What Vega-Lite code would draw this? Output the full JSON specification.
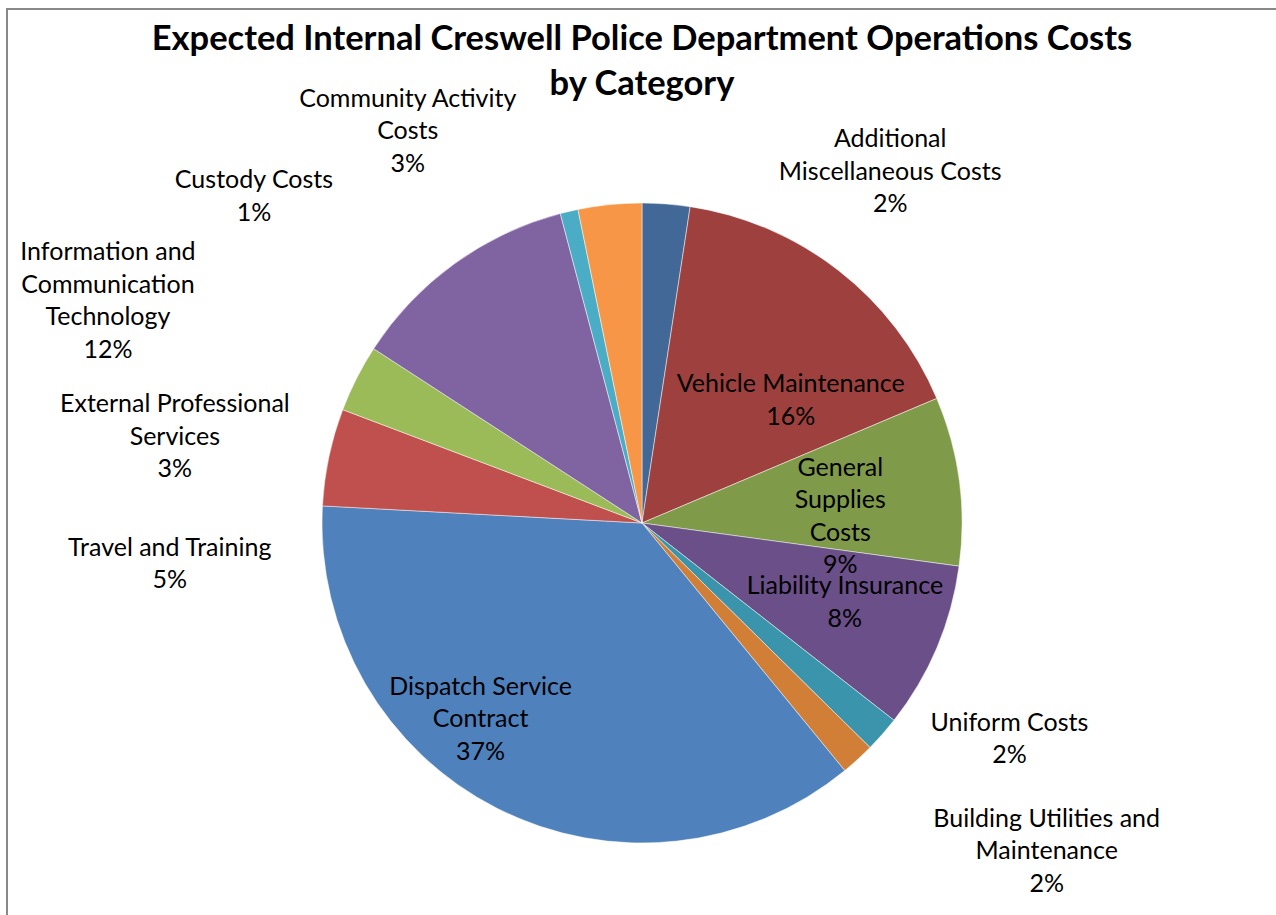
{
  "$schema": "https://vega.github.io/schema/vega-lite/v6.json",
  "autosize": "none",
  "width": 1270,
  "height": 1028,
  "padding": {"left": 7, "top": 9, "right": 0, "bottom": 0},
  "background": "white",
  "view": {"stroke": "#898989", "strokeWidth": 2},
  "title": {
    "text": ["Expected Internal Creswell Police Department Operations Costs", "by Category"],
    "anchor": "middle",
    "frame": "group",
    "font": "Lato",
    "fontSize": 34.5,
    "fontWeight": "bold",
    "color": "#000000",
    "lineHeight": 45,
    "baseline": "top",
    "offset": -12,
    "dy": 81
  },
  "config": {"view": {"stroke": "#898989", "strokeWidth": 2}, "style": {"view": {"stroke": "#898989", "strokeWidth": 2}}},
  "data": {
    "values": [
      {"ord": 1, "cat": "Additional Miscellaneous Costs", "value": 2.4, "label": "Additional\nMiscellaneous Costs\n2%"},
      {"ord": 2, "cat": "Vehicle Maintenance", "value": 16.2, "label": "Vehicle Maintenance\n16%"},
      {"ord": 3, "cat": "General Supplies Costs", "value": 8.5, "label": "General\nSupplies\nCosts\n9%"},
      {"ord": 4, "cat": "Liability Insurance", "value": 8.4, "label": "Liability Insurance\n8%"},
      {"ord": 5, "cat": "Uniform Costs", "value": 1.8, "label": "Uniform Costs\n2%"},
      {"ord": 6, "cat": "Building Utilities and Maintenance", "value": 1.7, "label": "Building Utilities and\nMaintenance\n2%"},
      {"ord": 7, "cat": "Dispatch Service Contract", "value": 36.7, "label": "Dispatch Service\nContract\n37%"},
      {"ord": 8, "cat": "Travel and Training", "value": 4.9, "label": "Travel and Training\n5%"},
      {"ord": 9, "cat": "External Professional Services", "value": 3.4, "label": "External Professional\nServices\n3%"},
      {"ord": 10, "cat": "Information and Communication Technology", "value": 11.7, "label": "Information and\nCommunication\nTechnology\n12%"},
      {"ord": 11, "cat": "Custody Costs", "value": 0.9, "label": "Custody Costs\n1%"},
      {"ord": 12, "cat": "Community Activity Costs", "value": 3.2, "label": "Community Activity\nCosts\n3%"}
    ]
  },
  "encoding": {
    "theta": {"field": "value", "type": "quantitative", "stack": true},
    "order": {"field": "ord", "type": "quantitative"},
    "detail": {"field": "cat", "type": "nominal"}
  },
  "layer": [
    {
      "mark": {"type": "arc", "radius": 320, "stroke": "#ffffff", "strokeWidth": 0.8, "strokeOpacity": 0.6},
      "encoding": {
        "color": {
          "field": "cat",
          "type": "nominal",
          "legend": null,
          "scale": {
            "domain": ["Additional Miscellaneous Costs", "Vehicle Maintenance", "General Supplies Costs", "Liability Insurance", "Uniform Costs", "Building Utilities and Maintenance", "Dispatch Service Contract", "Travel and Training", "External Professional Services", "Information and Communication Technology", "Custody Costs", "Community Activity Costs"],
            "range": ["#416896", "#9E413E", "#7F9A48", "#6A4F88", "#3A94AC", "#D17E37", "#4F81BD", "#C0504D", "#9BBB59", "#8064A2", "#4BACC6", "#F79646"]
          }
        }
      }
    },
    {
      "mark": {"type": "text", "radius": 195, "dx": 29, "dy": 15, "font": "Lato", "fontSize": 25, "lineHeight": 32.5, "lineBreak": "\n", "align": "center", "baseline": "middle", "color": "#000000"},
      "encoding": {"text": {"condition": {"test": "datum.cat === 'Vehicle Maintenance'", "field": "label", "type": "nominal"}, "value": ""}}
    },
    {
      "mark": {"type": "text", "radius": 198, "dx": 2, "dy": -29, "font": "Lato", "fontSize": 25, "lineHeight": 32.5, "lineBreak": "\n", "align": "center", "baseline": "middle", "color": "#000000"},
      "encoding": {"text": {"condition": {"test": "datum.cat === 'General Supplies Costs'", "field": "label", "type": "nominal"}, "value": ""}}
    },
    {
      "mark": {"type": "text", "radius": 217, "dx": 3, "dy": -21, "font": "Lato", "fontSize": 25, "lineHeight": 32.5, "lineBreak": "\n", "align": "center", "baseline": "middle", "color": "#000000"},
      "encoding": {"text": {"condition": {"test": "datum.cat === 'Liability Insurance'", "field": "label", "type": "nominal"}, "value": ""}}
    },
    {
      "mark": {"type": "text", "radius": 253, "dx": -47, "dy": -62, "font": "Lato", "fontSize": 25, "lineHeight": 32.5, "lineBreak": "\n", "align": "center", "baseline": "middle", "color": "#000000"},
      "encoding": {"text": {"condition": {"test": "datum.cat === 'Dispatch Service Contract'", "field": "label", "type": "nominal"}, "value": ""}}
    },
    {
      "mark": {"type": "text", "radius": 360, "dx": 221, "dy": -25, "font": "Lato", "fontSize": 25, "lineHeight": 32.5, "lineBreak": "\n", "align": "center", "baseline": "middle", "color": "#000000"},
      "encoding": {"text": {"condition": {"test": "datum.cat === 'Additional Miscellaneous Costs'", "field": "label", "type": "nominal"}, "value": ""}}
    },
    {
      "mark": {"type": "text", "radius": 360, "dx": 97, "dy": -38, "font": "Lato", "fontSize": 25, "lineHeight": 32.5, "lineBreak": "\n", "align": "center", "baseline": "middle", "color": "#000000"},
      "encoding": {"text": {"condition": {"test": "datum.cat === 'Uniform Costs'", "field": "label", "type": "nominal"}, "value": ""}}
    },
    {
      "mark": {"type": "text", "radius": 360, "dx": 162, "dy": 30, "font": "Lato", "fontSize": 25, "lineHeight": 32.5, "lineBreak": "\n", "align": "center", "baseline": "middle", "color": "#000000"},
      "encoding": {"text": {"condition": {"test": "datum.cat === 'Building Utilities and Maintenance'", "field": "label", "type": "nominal"}, "value": ""}}
    },
    {
      "mark": {"type": "text", "radius": 360, "dx": -120, "dy": 99, "font": "Lato", "fontSize": 25, "lineHeight": 32.5, "lineBreak": "\n", "align": "center", "baseline": "middle", "color": "#000000"},
      "encoding": {"text": {"condition": {"test": "datum.cat === 'Travel and Training'", "field": "label", "type": "nominal"}, "value": ""}}
    },
    {
      "mark": {"type": "text", "radius": 360, "dx": -146, "dy": 44, "font": "Lato", "fontSize": 25, "lineHeight": 32.5, "lineBreak": "\n", "align": "center", "baseline": "middle", "color": "#000000"},
      "encoding": {"text": {"condition": {"test": "datum.cat === 'External Professional Services'", "field": "label", "type": "nominal"}, "value": ""}}
    },
    {
      "mark": {"type": "text", "radius": 360, "dx": -323, "dy": 21, "font": "Lato", "fontSize": 25, "lineHeight": 32.5, "lineBreak": "\n", "align": "center", "baseline": "middle", "color": "#000000"},
      "encoding": {"text": {"condition": {"test": "datum.cat === 'Information and Communication Technology'", "field": "label", "type": "nominal"}, "value": ""}}
    },
    {
      "mark": {"type": "text", "radius": 360, "dx": -306, "dy": 8, "font": "Lato", "fontSize": 25, "lineHeight": 32.5, "lineBreak": "\n", "align": "center", "baseline": "middle", "color": "#000000"},
      "encoding": {"text": {"condition": {"test": "datum.cat === 'Custody Costs'", "field": "label", "type": "nominal"}, "value": ""}}
    },
    {
      "mark": {"type": "text", "radius": 360, "dx": -198, "dy": -66, "font": "Lato", "fontSize": 25, "lineHeight": 32.5, "lineBreak": "\n", "align": "center", "baseline": "middle", "color": "#000000"},
      "encoding": {"text": {"condition": {"test": "datum.cat === 'Community Activity Costs'", "field": "label", "type": "nominal"}, "value": ""}}
    }
  ]
}
